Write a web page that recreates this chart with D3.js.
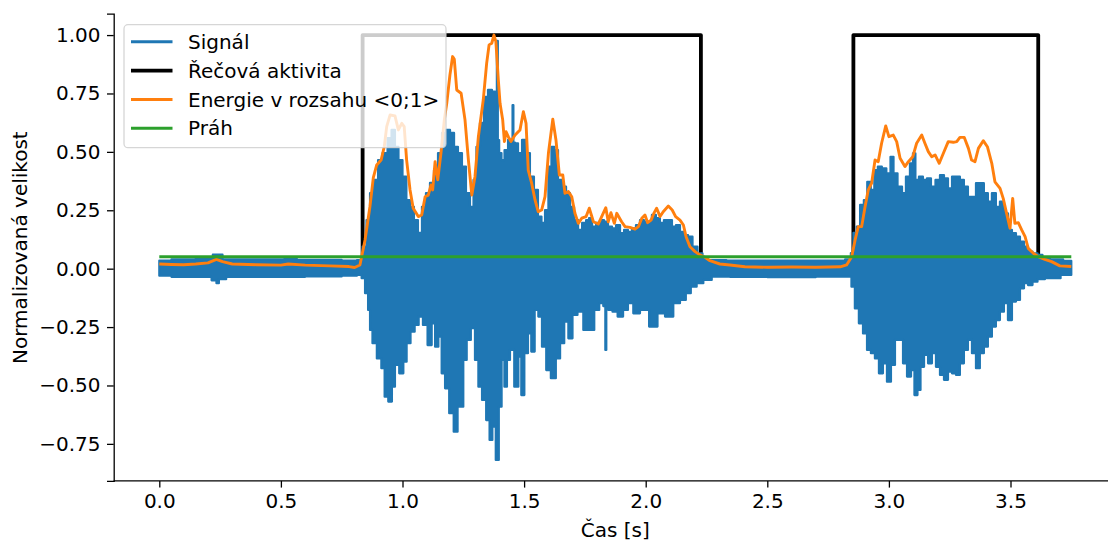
<!DOCTYPE html>
<html><head><meta charset="utf-8">
<script src="https://cdn.jsdelivr.net/npm/d3@7"></script>
<style>
html,body{margin:0;padding:0;background:#fff;}
svg{display:block;font-family:"DejaVu Sans",sans-serif;}
</style></head>
<body>
<svg id="chart" width="1108" height="543"></svg>
<script>
// ---- data ----
const xTicks = [0, 0.5, 1.0, 1.5, 2.0, 2.5, 3.0, 3.5];
const yTicks = [-0.75, -0.5, -0.25, 0, 0.25, 0.5, 0.75, 1.0];
const seriesNames = ["Signál", "Řečová aktivita", "Energie v rozsahu <0;1>", "Práh"];

// signal envelope (upper)
const sigUpT = [0,0.1,0.2,0.24,0.28,0.4,0.5,0.53,0.6,0.7,0.8,0.825,0.846,0.858,0.875,0.891,0.908,0.928,0.949,0.961,0.977,0.99,1.01,1.022,1.039,1.055,1.072,1.088,1.105,1.121,1.138,1.154,1.171,1.187,1.204,1.22,1.236,1.253,1.269,1.286,1.298,1.31,1.327,1.343,1.36,1.376,1.386,1.39,1.394,1.401,1.413,1.426,1.442,1.451,1.454,1.458,1.467,1.483,1.5,1.516,1.532,1.549,1.565,1.578,1.594,1.606,1.619,1.631,1.648,1.664,1.681,1.697,1.714,1.73,1.747,1.763,1.771,1.788,1.804,1.82,1.837,1.853,1.87,1.886,1.903,1.919,1.935,1.952,1.968,1.985,2.001,2.017,2.034,2.05,2.067,2.083,2.1,2.116,2.133,2.149,2.166,2.182,2.203,2.223,2.244,2.264,2.4,2.6,2.8,2.84,2.847,2.861,2.874,2.889,2.905,2.917,2.934,2.946,2.963,2.979,3.0,3.013,3.025,3.046,3.062,3.078,3.095,3.103,3.115,3.132,3.148,3.165,3.181,3.202,3.218,3.235,3.251,3.268,3.284,3.3,3.317,3.333,3.35,3.366,3.382,3.399,3.415,3.432,3.448,3.465,3.481,3.498,3.514,3.531,3.547,3.564,3.58,3.601,3.621,3.642,3.683,3.75];
const sigUpV = [0.035,0.04,0.045,0.06,0.04,0.04,0.04,0.045,0.038,0.038,0.035,0.037,0.094,0.208,0.324,0.38,0.465,0.495,0.559,0.594,0.522,0.465,0.394,0.294,0.265,0.208,0.153,0.265,0.324,0.367,0.422,0.495,0.581,0.594,0.581,0.522,0.495,0.437,0.324,0.265,0.38,0.522,0.624,0.736,0.765,0.758,0.74,0.975,0.55,0.495,0.465,0.508,0.551,0.55,0.70,0.54,0.537,0.495,0.551,0.495,0.394,0.337,0.223,0.196,0.251,0.437,0.522,0.508,0.38,0.351,0.324,0.265,0.208,0.166,0.196,0.208,0.217,0.18,0.196,0.208,0.201,0.18,0.173,0.187,0.152,0.166,0.158,0.173,0.187,0.208,0.201,0.196,0.23,0.216,0.196,0.208,0.208,0.18,0.187,0.158,0.144,0.137,0.094,0.066,0.045,0.037,0.035,0.035,0.035,0.04,0.067,0.153,0.18,0.273,0.294,0.372,0.337,0.422,0.437,0.43,0.408,0.479,0.408,0.351,0.323,0.394,0.451,0.494,0.38,0.394,0.38,0.387,0.351,0.38,0.401,0.387,0.344,0.394,0.394,0.38,0.351,0.308,0.308,0.366,0.366,0.323,0.287,0.323,0.265,0.287,0.237,0.166,0.152,0.137,0.116,0.094,0.073,0.066,0.059,0.045,0.04,0.034];

// signal envelope (lower)
const sigLoT = [0,0.1,0.2,0.23,0.24,0.25,0.3,0.5,0.7,0.8,0.825,0.839,0.853,0.864,0.869,0.884,0.905,0.921,0.932,0.951,0.962,0.976,0.997,1.01,1.024,1.042,1.058,1.075,1.093,1.113,1.127,1.141,1.154,1.168,1.182,1.202,1.219,1.234,1.243,1.257,1.271,1.291,1.305,1.319,1.335,1.353,1.363,1.376,1.391,1.401,1.414,1.424,1.435,1.449,1.47,1.483,1.494,1.508,1.524,1.535,1.552,1.565,1.582,1.6,1.62,1.641,1.655,1.675,1.689,1.709,1.73,1.757,1.778,1.799,1.819,1.832,1.836,1.84,1.853,1.874,1.895,1.919,1.935,1.963,1.99,2.038,2.059,2.1,2.127,2.155,2.175,2.196,2.223,2.251,2.292,2.4,2.6,2.8,2.84,2.852,2.868,2.885,2.902,2.918,2.934,2.951,2.967,2.984,3.0,3.017,3.033,3.05,3.066,3.083,3.099,3.111,3.124,3.136,3.153,3.169,3.185,3.202,3.218,3.235,3.251,3.268,3.284,3.3,3.317,3.333,3.35,3.366,3.382,3.399,3.415,3.432,3.448,3.465,3.481,3.498,3.514,3.531,3.547,3.564,3.58,3.601,3.621,3.662,3.75];
const sigLoV = [-0.03,-0.035,-0.035,-0.05,-0.062,-0.045,-0.035,-0.035,-0.033,-0.03,-0.027,-0.041,-0.105,-0.177,-0.262,-0.319,-0.384,-0.426,-0.548,-0.569,-0.505,-0.412,-0.448,-0.398,-0.319,-0.27,-0.241,-0.205,-0.241,-0.327,-0.234,-0.334,-0.291,-0.448,-0.512,-0.619,-0.698,-0.591,-0.591,-0.391,-0.305,-0.255,-0.391,-0.505,-0.562,-0.648,-0.733,-0.676,-0.819,-0.591,-0.391,-0.505,-0.391,-0.348,-0.505,-0.377,-0.541,-0.362,-0.277,-0.355,-0.177,-0.205,-0.334,-0.434,-0.469,-0.384,-0.319,-0.227,-0.298,-0.198,-0.184,-0.262,-0.262,-0.177,-0.148,-0.16,-0.348,-0.17,-0.177,-0.184,-0.205,-0.177,-0.148,-0.191,-0.177,-0.248,-0.191,-0.205,-0.148,-0.134,-0.105,-0.077,-0.062,-0.048,-0.034,-0.035,-0.036,-0.034,-0.034,-0.077,-0.17,-0.234,-0.277,-0.348,-0.362,-0.384,-0.448,-0.405,-0.484,-0.412,-0.305,-0.305,-0.405,-0.462,-0.434,-0.541,-0.519,-0.42,-0.369,-0.405,-0.362,-0.42,-0.455,-0.476,-0.441,-0.448,-0.455,-0.405,-0.348,-0.305,-0.362,-0.426,-0.362,-0.334,-0.291,-0.248,-0.22,-0.184,-0.148,-0.22,-0.141,-0.134,-0.084,-0.062,-0.07,-0.056,-0.045,-0.041,-0.027];

// speech activity (0/1)
const vadT = [0, 0.836, 0.836, 2.227, 2.227, 2.854, 2.854, 3.614, 3.614, 3.75];
const vadV = [0, 0, 1, 1, 0, 0, 1, 1, 0, 0];

// normalised energy
const energyT = [0,0.05,0.1,0.15,0.2,0.235,0.26,0.3,0.4,0.5,0.53,0.6,0.7,0.78,0.803,0.825,0.846,0.866,0.88,0.894,0.912,0.925,0.935,0.949,0.969,0.983,0.997,1.007,1.017,1.031,1.044,1.065,1.079,1.093,1.106,1.117,1.124,1.134,1.145,1.158,1.172,1.182,1.195,1.206,1.213,1.223,1.241,1.257,1.271,1.285,1.298,1.312,1.332,1.346,1.356,1.367,1.376,1.384,1.394,1.401,1.412,1.419,1.426,1.435,1.446,1.463,1.483,1.497,1.508,1.517,1.531,1.545,1.558,1.572,1.586,1.6,1.618,1.631,1.645,1.659,1.668,1.682,1.696,1.709,1.723,1.737,1.755,1.768,1.785,1.805,1.819,1.836,1.846,1.857,1.871,1.881,1.901,1.915,1.935,1.956,1.97,1.984,1.997,2.008,2.022,2.035,2.045,2.059,2.072,2.093,2.109,2.123,2.141,2.155,2.166,2.182,2.203,2.223,2.244,2.264,2.305,2.346,2.408,2.5,2.6,2.7,2.8,2.826,2.847,2.861,2.874,2.888,2.902,2.915,2.929,2.943,2.956,2.97,2.987,3.0,3.018,3.032,3.046,3.066,3.08,3.098,3.114,3.135,3.148,3.162,3.176,3.19,3.207,3.224,3.244,3.265,3.279,3.292,3.31,3.327,3.34,3.354,3.368,3.388,3.405,3.423,3.436,3.457,3.47,3.484,3.498,3.509,3.518,3.532,3.546,3.56,3.573,3.594,3.614,3.641,3.669,3.703,3.75];
const energyV = [0.02,0.018,0.017,0.02,0.025,0.04,0.03,0.02,0.017,0.015,0.02,0.015,0.012,0.009,0.005,0.016,0.123,0.265,0.39,0.444,0.465,0.522,0.608,0.658,0.654,0.594,0.622,0.608,0.465,0.337,0.259,0.223,0.23,0.308,0.315,0.358,0.337,0.458,0.38,0.494,0.637,0.708,0.829,0.908,0.896,0.765,0.751,0.637,0.465,0.315,0.394,0.565,0.722,0.879,0.958,0.965,1.0,0.972,0.808,0.708,0.637,0.544,0.586,0.565,0.544,0.572,0.594,0.672,0.622,0.422,0.366,0.294,0.244,0.251,0.308,0.494,0.64,0.551,0.401,0.401,0.323,0.33,0.308,0.237,0.194,0.216,0.223,0.259,0.201,0.191,0.223,0.261,0.201,0.24,0.194,0.237,0.201,0.18,0.177,0.169,0.18,0.216,0.23,0.197,0.208,0.24,0.259,0.223,0.244,0.268,0.251,0.223,0.208,0.187,0.137,0.094,0.073,0.059,0.049,0.034,0.02,0.016,0.008,0.006,0.007,0.006,0.008,0.016,0.051,0.123,0.18,0.18,0.265,0.337,0.366,0.465,0.458,0.537,0.611,0.565,0.572,0.544,0.473,0.437,0.458,0.479,0.537,0.572,0.537,0.501,0.479,0.487,0.451,0.494,0.544,0.541,0.544,0.562,0.562,0.515,0.465,0.458,0.515,0.548,0.522,0.451,0.372,0.344,0.301,0.237,0.173,0.301,0.194,0.197,0.166,0.137,0.087,0.066,0.051,0.04,0.03,0.012,0.009];

// threshold
const thrT = [0, 3.75];
const thrV = [0.051, 0.051];

// ---- chart ----
const FS = 20;
const svg = d3.select("#chart");
const colors = ["#1f77b4", "#000000", "#ff7f0e", "#2ca02c"];
const x = d3.scaleLinear().domain([-0.1875, 3.9375]).range([113.7, 1116.9]);
const y = d3.scaleLinear().domain([-0.9085, 1.0915]).range([480.9, 13.7]);

const zip = (ts, vs) => ts.map((t, i) => [t, vs[i]]);
const line = d3.line().x(d => x(d[0])).y(d => y(d[1]));
const stepLine = d3.line().x(d => x(d[0])).y(d => y(d[1])).curve(d3.curveStep);

// speech activity (drawn under the signal)
svg.append("path").attr("d", line(zip(vadT, vadV)))
  .attr("fill", "none").attr("stroke", colors[1]).attr("stroke-width", 3.8)
  .attr("stroke-linejoin", "round").attr("stroke-linecap", "butt");

// signal as a filled envelope (stepped to look like a dense waveform)
const env = zip(sigUpT, sigUpV).concat(zip(sigLoT, sigLoV).reverse());
svg.append("path").attr("d", stepLine(env) + "Z")
  .attr("fill", colors[0]).attr("stroke", colors[0]).attr("stroke-width", 2.2)
  .attr("stroke-linejoin", "round");

// energy
svg.append("path").attr("d", line(zip(energyT, energyV)))
  .attr("fill", "none").attr("stroke", colors[2]).attr("stroke-width", 2.9)
  .attr("stroke-linejoin", "round");

// threshold
svg.append("path").attr("d", line(zip(thrT, thrV)))
  .attr("fill", "none").attr("stroke", colors[3]).attr("stroke-width", 2.9);

// axes
const fmtY = v => d3.format(".2f")(v).replace("-", "\u2212");
const xAxis = svg.append("g").attr("transform", `translate(0,${y.range()[0]})`)
  .call(d3.axisBottom(x).tickValues(xTicks).tickFormat(d3.format(".1f")).tickSizeOuter(0).tickSize(6.7).tickPadding(6.5));
const yAxis = svg.append("g").attr("transform", `translate(${x.range()[0]},0)`)
  .call(d3.axisLeft(y).tickValues(yTicks).tickFormat(fmtY).tickSizeOuter(0).tickSize(6.7).tickPadding(6.5));
[xAxis, yAxis].forEach(g => {
  g.selectAll("text").attr("font-family", "DejaVu Sans").attr("font-size", FS).attr("fill", "#000");
  g.selectAll("line").attr("stroke", "#000").attr("stroke-width", 1.3);
  g.select(".domain").attr("stroke", "#000").attr("stroke-width", 1.3);
});
xAxis.select(".domain").attr("d", `M${x.range()[0]},0H1108`);

svg.append("text").attr("x", x(1.875)).attr("y", 537).attr("text-anchor", "middle")
  .attr("font-size", FS).text("Čas [s]");
svg.append("text").attr("transform", `translate(27,${y(0.09)}) rotate(-90)`).attr("text-anchor", "middle")
  .attr("font-size", FS).text("Normalizovaná velikost");

// legend
const lg = svg.append("g");
lg.append("rect").attr("x", 124).attr("y", 24.7).attr("width", 322).attr("height", 123).attr("rx", 4)
  .attr("fill", "rgba(255,255,255,0.8)").attr("stroke", "rgba(204,204,204,0.8)").attr("stroke-width", 1.3);
const rowY = [41.7, 70.7, 99.5, 128.3];
const lws = [2.9, 3.8, 2.9, 2.9];
seriesNames.forEach((name, i) => {
  lg.append("line").attr("x1", 131).attr("x2", 172.5).attr("y1", rowY[i]).attr("y2", rowY[i])
    .attr("stroke", colors[i]).attr("stroke-width", lws[i]);
  lg.append("text").attr("x", 188).attr("y", rowY[i] + 7).attr("font-size", FS).text(name);
});
</script>
</body></html>
